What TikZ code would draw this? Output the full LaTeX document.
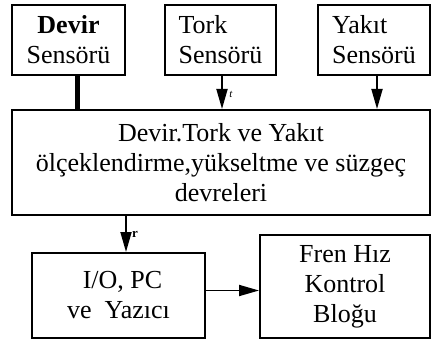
\documentclass[tikz,border=0pt]{standalone}
\usepackage{fontspec}
\setmainfont{Liberation Serif}
\usetikzlibrary{arrows.meta}
\begin{document}
\begin{tikzpicture}[x=1pt,y=-1pt,
  box/.style={draw, line width=2pt, inner sep=0pt, align=center, font=\fontsize{26}{30}\selectfont},
  arr/.style={line width=1.8pt, -{Triangle[length=20pt,width=11pt]}},
  bar/.style={line width=5pt},
  lab/.style={inner sep=0pt, font=\fontsize{12}{14}\selectfont}]
\useasboundingbox (0,0) rectangle (431,342);
\node[box, minimum width=113pt, minimum height=70pt] (devir) at (68.5,40) {\textbf{Devir}\\Sensörü};
\node[box, align=left, minimum width=111pt, minimum height=70pt] (tork) at (220.5,40) {Tork\\Sensörü};
\node[box, align=left, minimum width=112pt, minimum height=70pt] (yakit) at (374,40) {Yakıt\\Sensörü};
\node[box, minimum width=418pt, minimum height=105pt] (big) at (221,162.5) {Devir.Tork ve Yakıt\\ölçeklendirme,yükseltme ve süzgeç\\devreleri};
\node[box, minimum width=173pt, minimum height=85pt] (io) at (118.5,295.5) {\hspace*{8pt}I/O, PC\\ve\ \ Yazıcı};
\node[box, minimum width=170pt, minimum height=103pt] (fren) at (345,286.5) {Fren Hız\\Kontrol\\Bloğu};
\draw[bar] ([xshift=8.5pt]devir.south) -- ([xshift=8.5pt]devir.south |- big.north);
\draw[arr] ([xshift=1.5pt]tork.south) -- ([xshift=1.5pt]tork.south |- big.north);
\draw[arr] ([xshift=3pt]yakit.south) -- ([xshift=3pt]yakit.south |- big.north);
\draw[arr] ([xshift=7.5pt]io.north |- big.south) -- ([xshift=7.5pt]io.north);
\draw[arr] ([yshift=5pt]io.east) -- ([yshift=5pt]io.east -| fren.west);
\node[lab, font=\fontsize{11}{12}\selectfont\itshape] (t) at (231,94) {t};
\node[lab, font=\fontsize{13}{14}\selectfont\bfseries] (r) at (135,234) {r};
\end{tikzpicture}
\end{document}
